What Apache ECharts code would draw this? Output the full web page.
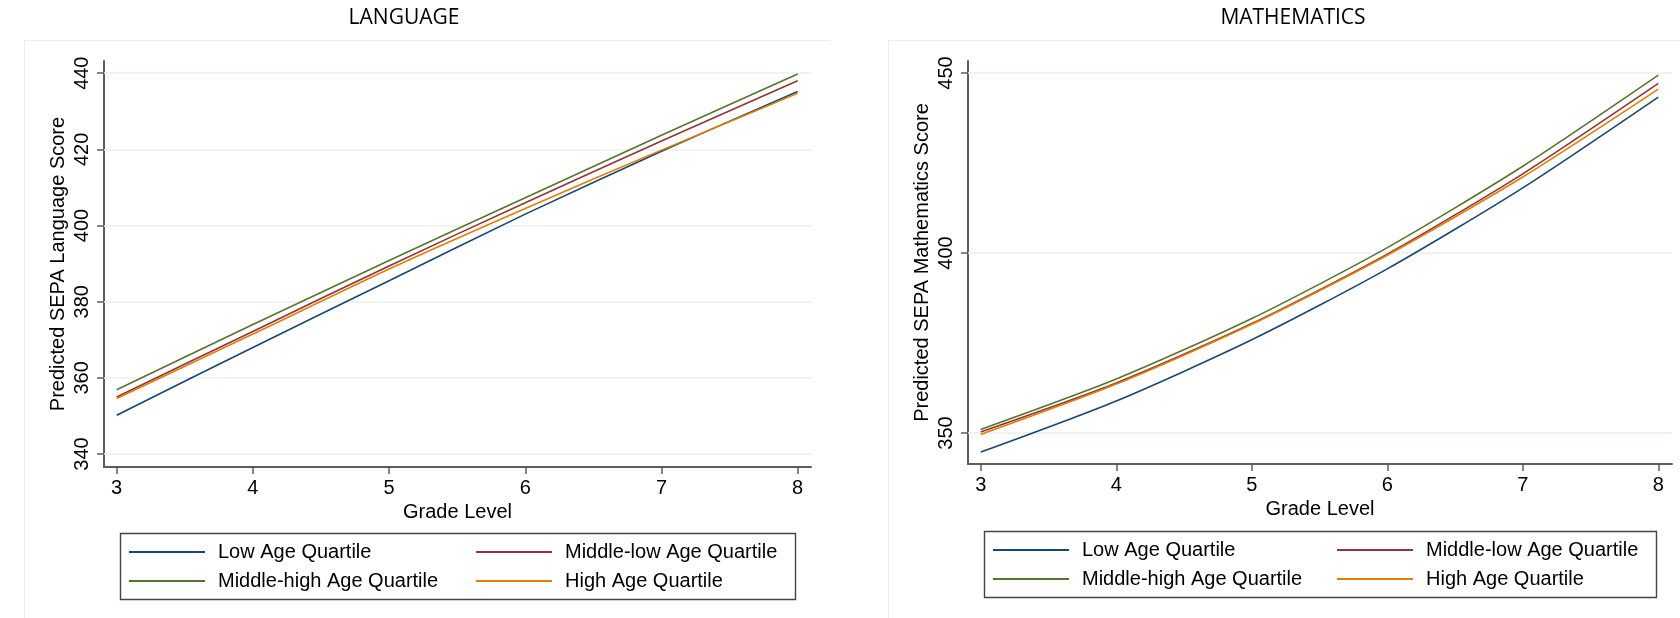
<!DOCTYPE html>
<html>
<head>
<meta charset="utf-8">
<script src="https://cdn.jsdelivr.net/npm/echarts@6/dist/echarts.min.js"></script>
<style>
html,body{margin:0;padding:0;background:#fff;}
#chart{width:1680px;height:618px;}
</style>
</head>
<body>
<div id="chart"></div>
<script>
// ---- data ----
const grades = [3, 4, 5, 6, 7, 8];
const seriesNames = ['Low Age Quartile', 'Middle-low Age Quartile', 'Middle-high Age Quartile', 'High Age Quartile'];
const seriesColors = ['#1a476f', '#90353b', '#55752f', '#e37e00'];

const langLow     = [350.2, 368.0, 385.5, 403.0, 419.5, 435.2];
const langMidLow  = [355.0, 372.2, 389.4, 406.0, 422.2, 438.0];
const langMidHigh = [356.9, 374.0, 390.8, 407.3, 423.7, 439.8];
const langHigh    = [354.6, 371.5, 388.6, 404.5, 419.8, 434.7];

const mathLow     = [344.7, 358.9, 375.9, 395.6, 418.1, 443.3];
const mathMidLow  = [350.3, 363.9, 380.4, 399.7, 422.0, 447.1];
const mathMidHigh = [351.0, 365.0, 381.8, 401.5, 424.1, 449.4];
const mathHigh    = [349.6, 363.6, 380.2, 399.4, 421.1, 445.5];

const xTicks = [3, 4, 5, 6, 7, 8];
const langYTicks = [340, 360, 380, 400, 420, 440];
const mathYTicks = [350, 400, 450];

const titles = ['LANGUAGE', 'MATHEMATICS'];
const xTitle = 'Grade Level';
const yTitles = ['Predicted SEPA Language Score', 'Predicted SEPA Mathematics Score'];

// ---- chart ----
const FONT = '"Liberation Sans", Arial, sans-serif';
const axisColor = '#5c5c5c';
const gridColor = '#e9f1f2';

function pairs(vals) { return grades.map((g, i) => [g, vals[i]]); }

const langSets = [langLow, langMidLow, langMidHigh, langHigh];
const mathSets = [mathLow, mathMidLow, mathMidHigh, mathHigh];

const series = [];
// gridline helper series (drawn beneath)
[langYTicks, mathYTicks].forEach((ticks, gi) => {
  series.push({
    type: 'line', xAxisIndex: gi, yAxisIndex: gi, data: [], silent: true, z: 1,
    markLine: {
      silent: true, z: 1, symbol: ['none', 'none'], label: {show: false},
      lineStyle: {color: gridColor, width: 1.5, type: 'solid'},
      emphasis: {disabled: true},
      data: ticks.map(v => ({yAxis: v}))
    }
  });
});
[langSets, mathSets].forEach((sets, gi) => {
  sets.forEach((vals, si) => {
    series.push({
      name: seriesNames[si], type: 'line', xAxisIndex: gi, yAxisIndex: gi,
      data: pairs(vals), smooth: 0.25,
      symbol: 'none', showSymbol: false, z: 3,
      lineStyle: {color: seriesColors[si], width: 1.6},
      itemStyle: {color: seriesColors[si]},
      emphasis: {disabled: true}
    });
  });
});

function xAxisCfg(gi, min, max) {
  return {
    type: 'value', gridIndex: gi, min: min, max: max,
    name: xTitle, nameLocation: 'middle', nameGap: 32,
    nameTextStyle: {fontSize: 20, fontFamily: FONT, color: '#000'},
    axisLine: {show: true, lineStyle: {color: axisColor, width: 2}},
    axisTick: {show: true, length: 7, customValues: xTicks, lineStyle: {color: axisColor, width: 1.5}},
    axisLabel: {customValues: xTicks, fontSize: 20, fontFamily: FONT, color: '#000', margin: 11},
    splitLine: {show: false}
  };
}
function yAxisCfg(gi, min, max, ticks) {
  return {
    type: 'value', gridIndex: gi, min: min, max: max,
    name: yTitles[gi], nameLocation: 'middle', nameGap: 36,
    nameTextStyle: {fontSize: 20, fontFamily: FONT, color: '#000'},
    axisLine: {show: true, lineStyle: {color: axisColor, width: 2}},
    axisTick: {show: true, length: 7, customValues: ticks, lineStyle: {color: axisColor, width: 1.5}},
    axisLabel: {customValues: ticks, rotate: 90, fontSize: 20, fontFamily: FONT, color: '#000', margin: 12},
    splitLine: {show: false}
  };
}

function legendCfg(names, left, top) {
  return {
    data: names, orient: 'vertical', left: left, top: top, padding: 0,
    icon: 'rect', itemWidth: 76, itemHeight: 2, itemGap: 9, selectedMode: false,
    textStyle: {fontSize: 20, fontFamily: FONT, color: '#000', lineHeight: 20, padding: [0, 0, 0, 8]}
  };
}

const option = {
  backgroundColor: '#fff',
  animation: false,
  title: [
    {text: titles[0], left: 404, top: 8, textAlign: 'center', padding: 0,
     textStyle: {fontFamily: '"Open Sans", sans-serif', fontSize: 21, fontWeight: 'normal', color: '#000'}},
    {text: titles[1], left: 1293, top: 8, textAlign: 'center', padding: 0,
     textStyle: {fontFamily: '"Open Sans", sans-serif', fontSize: 21, fontWeight: 'normal', color: '#000'}}
  ],
  grid: [
    {left: 104, top: 61, width: 707, height: 406, containLabel: false},
    {left: 968, top: 61, width: 704, height: 403, containLabel: false}
  ],
  xAxis: [xAxisCfg(0, 2.907, 8.098), xAxisCfg(1, 2.906, 8.101)],
  yAxis: [yAxisCfg(0, 336.6, 443.2, langYTicks), yAxisCfg(1, 341.4, 453.33, mathYTicks)],
  legend: [
    legendCfg([seriesNames[0], seriesNames[2]], 129, 542),
    legendCfg([seriesNames[1], seriesNames[3]], 476, 542),
    legendCfg([seriesNames[0], seriesNames[2]], 993, 540),
    legendCfg([seriesNames[1], seriesNames[3]], 1337, 540)
  ],
  graphic: [
    {type: 'polyline', silent: true, shape: {points: [[24.5, 618], [24.5, 40.5], [830, 40.5]]},
     style: {stroke: '#e6eff0', lineWidth: 1, fill: null}},
    {type: 'polyline', silent: true, shape: {points: [[888.5, 618], [888.5, 40.5], [1680, 40.5]]},
     style: {stroke: '#e6eff0', lineWidth: 1, fill: null}},
    {type: 'rect', silent: true, shape: {x: 120.5, y: 533.5, width: 675, height: 66},
     style: {stroke: '#444', lineWidth: 1.4, fill: null}},
    {type: 'rect', silent: true, shape: {x: 984.5, y: 531.5, width: 672, height: 66},
     style: {stroke: '#444', lineWidth: 1.4, fill: null}}
  ],
  series: series
};

const chart = echarts.init(document.getElementById('chart'), null, {renderer: 'canvas', width: 1680, height: 618});
chart.setOption(option);
</script>
</body>
</html>
